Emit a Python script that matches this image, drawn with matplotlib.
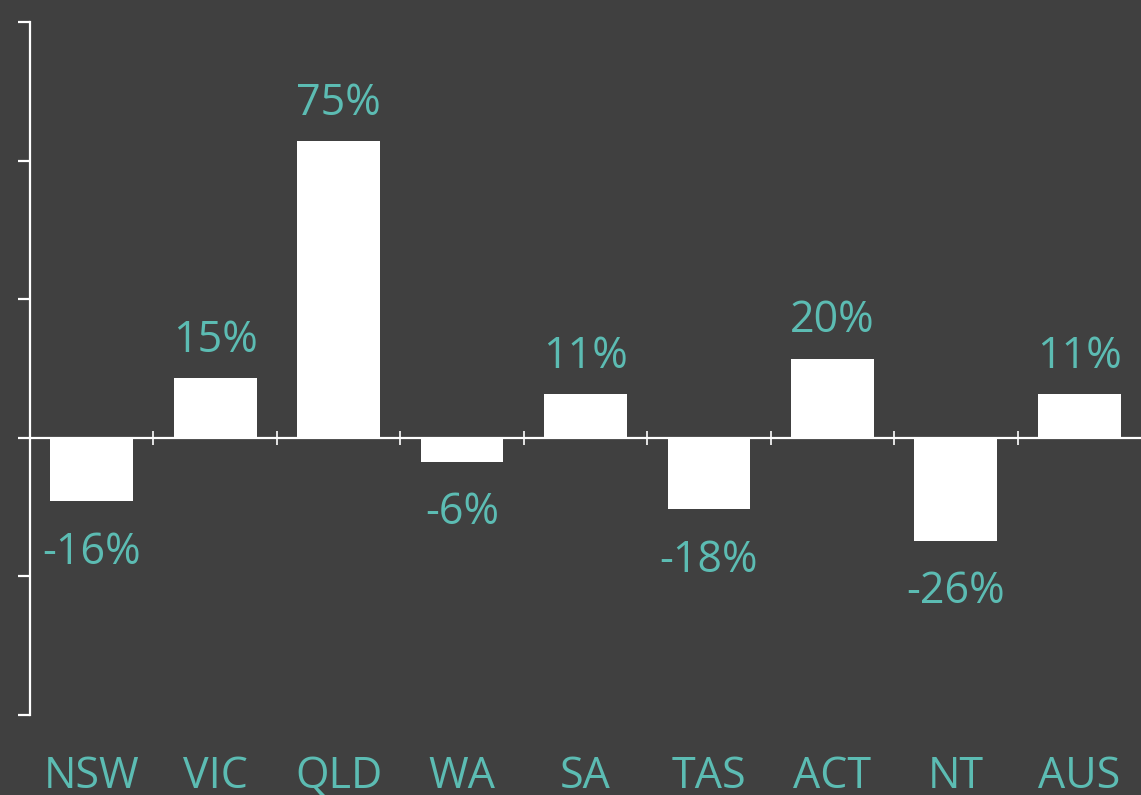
import numpy as np
import matplotlib
matplotlib.use('Agg')
import matplotlib.pyplot as plt
from matplotlib.transforms import blended_transform_factory

plt.rcParams['font.family'] = ['Open Sans', 'DejaVu Sans']

# =============================================================================
# DATA
# =============================================================================

states = ['NSW', 'VIC', 'QLD', 'WA', 'SA', 'TAS', 'ACT', 'NT', 'AUS']
change = [-16, 15, 75, -6, 11, -18, 20, -26, 11]
value_labels = ['-16%', '15%', '75%', '-6%', '11%', '-18%', '20%', '-26%', '11%']
yticks = [-70, -35, 0, 35, 70, 105]

# =============================================================================
# PLOT
# =============================================================================

bg = '#404040'
teal = '#5cbcb3'
fontsize = 31

fig = plt.figure(figsize=(11.41, 7.95), dpi=100, facecolor=bg)
ax = fig.add_axes([30 / 1141, 1 - 715 / 795, 1 - 30 / 1141, (715 - 22) / 795])
ax.set_facecolor(bg)

x = np.arange(len(states))
ax.bar(x, change, width=0.67, color='white', edgecolor='none', zorder=2)

ax.set_xlim(-0.5, 8.5)
ax.set_ylim(yticks[0], yticks[-1])

# spines
for s in ['top', 'right']:
    ax.spines[s].set_visible(False)
ax.spines['left'].set_color('white')
ax.spines['left'].set_linewidth(1.6)
ax.spines['bottom'].set_position(('data', 0))
ax.spines['bottom'].set_color('white')
ax.spines['bottom'].set_linewidth(1.6)
ax.spines['bottom'].set_zorder(3)

ax.set_yticks(yticks)
ax.set_yticklabels([])
ax.tick_params(axis='y', direction='out', length=8.5, width=1.6, color='white')
ax.set_xticks(np.arange(-0.5, 8.5, 1))
ax.set_xticklabels([])
ax.tick_params(axis='x', direction='inout', length=10, width=1.2, color='white')

# value labels
for xi, v, lab in zip(x, change, value_labels):
    if v >= 0:
        ax.annotate(lab, (xi, v), xytext=(0, 11), textcoords='offset points',
                    ha='center', va='bottom', color=teal, fontsize=fontsize)
    else:
        ax.annotate(lab, (xi, v), xytext=(0, -21), textcoords='offset points',
                    ha='center', va='top', color=teal, fontsize=fontsize)

# category labels
trans = blended_transform_factory(ax.transData, ax.transAxes)
for xi, st in zip(x, states):
    ax.annotate(st, (xi, 0), xycoords=trans, xytext=(0, -52.5),
                textcoords='offset points', ha='center', va='baseline',
                color=teal, fontsize=fontsize)

plt.savefig('out.png', dpi=100, facecolor=bg)
